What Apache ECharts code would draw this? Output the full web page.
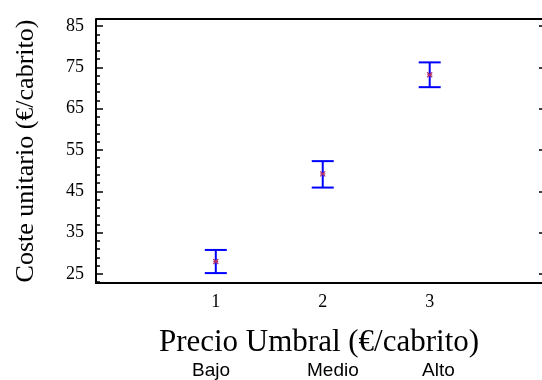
<!DOCTYPE html>
<html>
<head>
<meta charset="utf-8">
<script src="https://cdn.jsdelivr.net/npm/echarts@6/dist/echarts.min.js"></script>
<style>
  html, body { margin: 0; padding: 0; background: #fff; }
  #chart { width: 542px; height: 380px; }
</style>
</head>
<body>
<div id="chart"></div>
<script>
// Unit cost by threshold price level: mean with confidence interval
const levels = [1, 2, 3];
const levelNames = ['Bajo', 'Medio', 'Alto'];
const means = [28.0, 49.2, 73.2];
const lower = [25.2, 45.9, 70.2];
const upper = [30.8, 52.3, 76.2];
const yMajorTicks = [25, 35, 45, 55, 65, 75, 85];
const yMinorTicks = [23, 27, 29, 31, 33, 37, 39, 41, 43, 47, 49, 51, 53, 57, 59, 61, 63, 67, 69, 71, 73, 77, 79, 81, 83, 85];

const serif = '"Liberation Serif", "Times New Roman", serif';
const sans = '"Liberation Sans", Arial, sans-serif';

const barData = levels.map((x, i) => [x, means[i], lower[i], upper[i]]);

const Y_MIN = 22.8, Y_MAX = 86.7;
const X_MIN = -0.12, X_MAX = 4.05;

function renderErrorBar(params, api) {
  const x = api.value(0);
  const mid = api.coord([x, api.value(1)]);
  const lo = api.coord([x, api.value(2)]);
  const hi = api.coord([x, api.value(3)]);
  const half = 11;
  const stroke = { stroke: '#0000ff', lineWidth: 2 };
  const mk = { stroke: '#b0306a', lineWidth: 1.2 };
  const m = 2.5;
  return {
    type: 'group',
    children: [
      { type: 'line', shape: { x1: lo[0], y1: lo[1], x2: hi[0], y2: hi[1] }, style: stroke },
      { type: 'line', shape: { x1: hi[0] - half, y1: hi[1], x2: hi[0] + half, y2: hi[1] }, style: stroke },
      { type: 'line', shape: { x1: lo[0] - half, y1: lo[1], x2: lo[0] + half, y2: lo[1] }, style: stroke },
      { type: 'line', shape: { x1: mid[0] - m, y1: mid[1] - m, x2: mid[0] + m, y2: mid[1] + m }, style: mk },
      { type: 'line', shape: { x1: mid[0] - m, y1: mid[1] + m, x2: mid[0] + m, y2: mid[1] - m }, style: mk },
      { type: 'line', shape: { x1: mid[0] - m, y1: mid[1], x2: mid[0] + m, y2: mid[1] }, style: mk }
    ]
  };
}

const chart = echarts.init(document.getElementById('chart'), null, { renderer: 'canvas' });

const frameLine = { show: true, onZero: false, lineStyle: { color: '#000', width: 2 } };

chart.setOption({
  animation: false,
  backgroundColor: '#fff',
  grid: { left: 96, right: 0, top: 19, bottom: 97 },
  xAxis: {
    type: 'value', min: X_MIN, max: X_MAX,
    splitLine: { show: false },
    axisLine: frameLine,
    axisTick: { show: false },
    axisLabel: { customValues: levels, color: '#000', fontFamily: serif, fontSize: 18, margin: 10 },
    name: 'Precio Umbral (€/cabrito)',
    nameLocation: 'middle', nameGap: 44,
    nameTextStyle: { color: '#000', fontFamily: serif, fontSize: 31 }
  },
  yAxis: [{
    type: 'value', min: Y_MIN, max: Y_MAX, position: 'left',
    splitLine: { show: false },
    axisLine: frameLine,
    axisTick: { show: true, inside: true, length: 7, customValues: yMajorTicks, lineStyle: { color: '#000', width: 1.5 } },
    axisLabel: { customValues: yMajorTicks, color: '#000', fontFamily: serif, fontSize: 18, margin: 12 },
    name: 'Coste unitario (€/cabrito)',
    nameLocation: 'middle', nameGap: 57, nameRotate: 90,
    nameTextStyle: { color: '#000', fontFamily: serif, fontSize: 26 }
  }, {
    type: 'value', min: Y_MIN, max: Y_MAX, position: 'left', offset: 0,
    splitLine: { show: false },
    axisLine: { show: false, onZero: false },
    axisTick: { show: true, inside: true, length: 4, customValues: yMinorTicks, lineStyle: { color: '#000', width: 1.5 } },
    axisLabel: { show: false }
  }, {
    type: 'value', min: Y_MIN, max: Y_MAX, position: 'right', offset: 0,
    splitLine: { show: false },
    axisLine: { show: false, onZero: false },
    axisTick: { show: true, inside: true, length: 3, customValues: yMajorTicks, lineStyle: { color: '#000', width: 1.5 } },
    axisLabel: { show: false }
  }],
  graphic: [
    { type: 'line', shape: { x1: 96, y1: 19, x2: 542, y2: 19 }, style: { stroke: '#000', lineWidth: 2 } },
    { type: 'text', left: 192, top: 361, style: { text: levelNames[0], font: '19px ' + sans, fill: '#000' } },
    { type: 'text', left: 307, top: 361, style: { text: levelNames[1], font: '19px ' + sans, fill: '#000' } },
    { type: 'text', left: 422, top: 361, style: { text: levelNames[2], font: '19px ' + sans, fill: '#000' } }
  ],
  series: [{
    type: 'custom',
    xAxisIndex: 0,
    yAxisIndex: 0,
    renderItem: renderErrorBar,
    encode: { x: 0, y: [1, 2, 3] },
    data: barData
  }]
});
</script>
</body>
</html>
